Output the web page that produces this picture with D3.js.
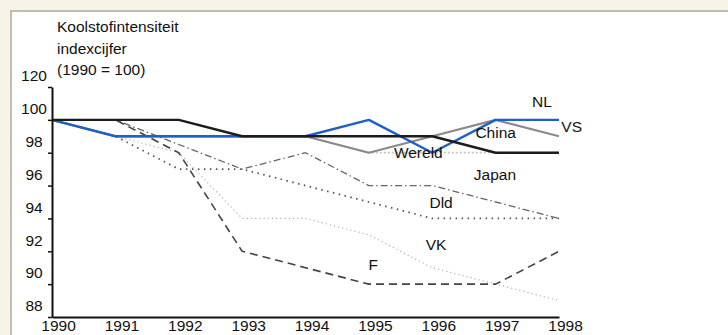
<!DOCTYPE html>
<html><head><meta charset="utf-8">
<script src="https://cdn.jsdelivr.net/npm/d3@7"></script>
<style>
html,body{margin:0;padding:0;background:#f6f4e8;}
svg{display:block;font-family:"Liberation Sans",Arial,sans-serif;}
</style></head>
<body><svg id="c" width="728" height="335"></svg>
<script>
const years = [1990,1991,1992,1993,1994,1995,1996,1997,1998];
const nl     = [100, 99, 99, 99, 99,100, 98,100,100];
const vs     = [100,100,100, 99, 99, 99, 99, 98, 98];
const china  = [100, 99, 99, 99, 99, 98, 99,100, 99];
const wereld = [100, 99, 99, 99, 99, 98, 98, 98, 98];
const japan  = [100,100,98.5,97, 98, 96, 96, 95, 94];
const dld    = [100, 99, 97, 97, 96, 95, 94, 94, 94];
const vk     = [100, 99, 98, 94, 94, 93, 91, 90, 89];
const fr     = [100,100, 98, 92, 91, 90, 90, 90, 92];
const yTickValues = [102,100,98,96,94,92,90,88];
const yTickLabels = ["120","100","98","96","94","92","90","88"];
const titleLines = ["Koolstofintensiteit","indexcijfer","(1990 = 100)"];
const labelNames  = ["NL","VS","China","Wereld","Japan","Dld","VK","F"];
const labelYears  = [1997.73,1998.2,1997.0,1995.78,1996.99,1996.14,1996.06,1995.07];
const labelValues = [101.09,99.57,99.2,97.98,96.64,94.99,92.38,91.17];

const svg = d3.select("#c");
svg.append("rect").attr("x",11).attr("y",11).attr("width",730).attr("height",340)
  .attr("fill","#fff").attr("stroke","#aaa99a").attr("stroke-width",1.5);

const x = d3.scaleLinear().domain([1990,1998]).range([52,559]);
const y = d3.scaleLinear().domain([88,102]).range([317,87]);

// title
svg.append("g").selectAll("text").data(titleLines).join("text")
  .attr("x",57).attr("y",(d,i)=>27+i*21.5).attr("dy","0.35em")
  .attr("font-size",15.5).attr("fill","#111").text(d=>d);

const styles = [
  {data:vk,    stroke:"#b0b0b0", w:1.2, dash:"1.2,3"},
  {data:dld,   stroke:"#555",    w:1.8, dash:"1.5,4.5"},
  {data:japan, stroke:"#666",    w:1.3, dash:"7,3,1.5,3"},
  {data:fr,    stroke:"#444",    w:1.6, dash:"8,5"},
  {data:wereld,stroke:"#c4c4c4", w:1.8, dash:"2,2"},
  {data:china, stroke:"#8a8a8a", w:2.2, dash:null},
  {data:nl,    stroke:"#1f5fc8", w:2.4, dash:null},
  {data:vs,    stroke:"#1c1c1c", w:2.4, dash:null},
];
const line = d3.line().x((d,i)=>x(years[i])).y(d=>y(d));
svg.append("g").selectAll("path").data(styles).join("path")
  .attr("d",s=>line(s.data)).attr("fill","none")
  .attr("stroke",s=>s.stroke).attr("stroke-width",s=>s.w)
  .attr("stroke-dasharray",s=>s.dash)
  .attr("stroke-linejoin","round");

// y axis
const ya = svg.append("g").attr("transform",`translate(${x(1990)},0)`)
  .call(d3.axisLeft(y).tickValues(yTickValues).tickFormat((d,i)=>yTickLabels[i]).tickSize(4).tickSizeOuter(0));
ya.select(".domain").attr("stroke","#111").attr("stroke-width",2);
ya.selectAll(".tick line").attr("stroke","#111").attr("stroke-width",1.5);
ya.selectAll(".tick text").attr("x",-18).attr("dy","-0.4em").attr("text-anchor","middle")
  .attr("font-size",15.5).attr("fill","#111").attr("font-family","Liberation Sans, Arial, sans-serif");

// x axis
const xa = svg.append("g").attr("transform",`translate(0,${y(88)})`)
  .call(d3.axisBottom(x).tickValues(years).tickFormat(d3.format("d")).tickSize(0).tickSizeOuter(0));
xa.select(".domain").attr("stroke","#111").attr("stroke-width",2);
xa.selectAll(".tick text").attr("x",6).attr("y",3).attr("dy","0.71em")
  .attr("font-size",15.5).attr("fill","#111").attr("font-family","Liberation Sans, Arial, sans-serif");

// series labels
svg.append("g").selectAll("text").data(labelNames).join("text")
  .attr("x",(d,i)=>x(labelYears[i])).attr("y",(d,i)=>y(labelValues[i]))
  .attr("dy","0.35em").attr("text-anchor","middle")
  .attr("font-size",15.5).attr("fill","#111").text(d=>d);
</script></body></html>
